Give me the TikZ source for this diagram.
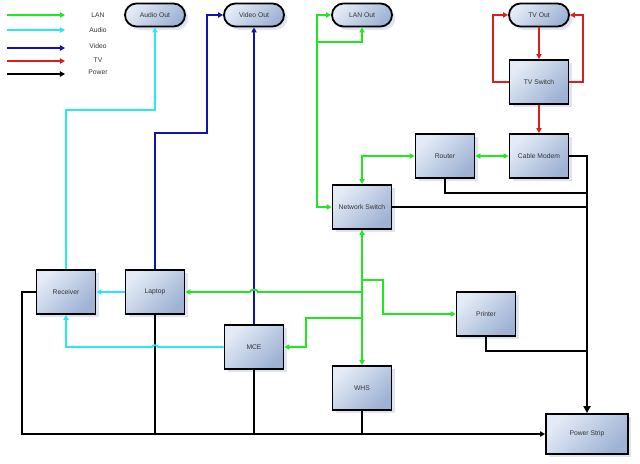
\documentclass[tikz,border=0pt]{standalone}
\usepackage{fontspec}
\setmainfont{Liberation Sans}
\usetikzlibrary{arrows.meta,positioning,shapes.misc,shadows}
\definecolor{lancol}{RGB}{30,232,30}
\definecolor{audiocol}{RGB}{40,232,240}
\definecolor{videocol}{RGB}{18,18,178}
\definecolor{tvcol}{RGB}{222,30,30}
\definecolor{boxlight}{RGB}{228,235,246}
\definecolor{boxmid}{RGB}{194,208,231}
\definecolor{boxdark}{RGB}{158,178,212}
\definecolor{shadowcol}{RGB}{222,228,240}
\tikzset{
  >={Triangle[length=3.6pt,width=3.8pt]},
  every node/.style={font=\fontsize{4.8}{6}\selectfont, text=black!80},
  device/.style={draw, line width=1.3pt, inner sep=0pt,
    minimum width=1.475cm, minimum height=1.1cm,
    top color=boxlight, middle color=boxmid, bottom color=boxdark, shading angle=45,
    drop shadow={shadow xshift=2.4pt, shadow yshift=-2.4pt, fill=shadowcol, opacity=1}},
  port/.style={device, rounded rectangle, minimum width=1.5cm, minimum height=0.575cm},
  lan/.style={draw=lancol, line width=1.3pt},
  audio/.style={draw=audiocol, line width=1.3pt},
  video/.style={draw=videocol, line width=1.1pt},
  tv/.style={draw=tvcol, line width=1.3pt},
  power/.style={draw=black, line width=0.9pt},
}

\begin{document}
\begin{tikzpicture}[x=0.025cm, y=-0.025cm]
\useasboundingbox (0,0) rectangle (640,463);

% legend
\foreach \c/\t/\y/\ty in {lan/LAN/15/15, audio/Audio/30/30, video/Video/48/46, tv/TV/61/60, power/Power/74/72} {
  \coordinate (\c-s) at (7,\y);
  \coordinate (\c-e) at (65,\y);
  \draw[\c,->] (\c-s) -- (\c-e);
  \node (key-\c) at (98,\ty) {\t};
}

% outputs
\node[port] (aout) at (155,15) {Audio Out};
\node[port] (vout) at (254,15) {Video Out};
\node[port] (lout) at (362,15) {LAN Out};
\node[port] (tvout) at (539,15) {TV Out};

% devices
\node[device] (tvsw) at (539,82) {TV Switch};
\node[device] (router) at (445,156) {Router};
\node[device] (modem) at (539,156) {Cable Modem};
\node[device] (nsw) at (362,207) {Network Switch};
\node[device] (recv) at (66,292) {Receiver};
\node[device] (laptop) at (155,292) {Laptop};
\node[device] (mce) at (254,347) {MCE};
\node[device] (whs) at (362,388) {WHS};
\node[device] (printer) at (486,314) {Printer};
\node[device, minimum width=2.05cm, minimum height=1cm] (strip) at (587,434) {Power Strip};

% power
\draw[power,->] (recv.west) -| (22,400) |- (strip.west);
\draw[power] (laptop.south) -- (laptop.south |- strip.west);
\draw[power] (mce.south) -- (mce.south |- strip.west);
\draw[power] (whs.south) -- (whs.south |- strip.west);
\draw[power] (router.south) |- (strip.north |- 0,193);
\draw[power] (nsw.east) -- (nsw.east -| strip.north);
\draw[power] (printer.south) |- (strip.north |- 0,351);
\draw[power,line width=1.3pt,-{Triangle[length=5pt,width=5pt]}] (modem.east) -| (strip.north);

% audio
\draw[audio,->] (recv.north) -- ++(0,-159) -| (aout.south);
\draw[audio,->] (laptop.west) -- (recv.east);
\draw[audio,->] (mce.west) -- (158,347) to[out=90,in=90] (152,347) -| (recv.south);

% video
\draw[video,->] (laptop.north) |- (207,133) |- (vout.west);
\draw[video,->] (mce.north) -- (vout.south);

% lan
\coordinate (lanj) at (317,42);
\draw[lan,<->] (lout.west) -| (317,100) |- (nsw.west);
\draw[lan,->] (lanj) -| (lout.south);
\draw[lan,<->] (router.west) -| (nsw.north);
\draw[lan,<->] (router.east) -- (modem.west);
\draw[lan,<->] (nsw.south) -- (whs.north);
\draw[lan,->] (nsw.south |- 0,292) -- (258,292) to[out=90,in=90] (250,292) -- (laptop.east);
\draw[lan,->] (nsw.south |- 0,280) -| (383,314) -- (printer.west);
\draw[lan,->] (nsw.south |- 0,318) -| (306,347) -- (mce.east);

% tv
\draw[tv,->] (tvout.south) -- (tvsw.north);
\draw[tv,->] (tvsw.south) -- (modem.north);
\draw[tv,->] (tvsw.west) -| (493,40) |- (tvout.west);
\draw[tv,->] (tvsw.east) -| (583,40) |- (tvout.east);

\end{tikzpicture}
\end{document}
